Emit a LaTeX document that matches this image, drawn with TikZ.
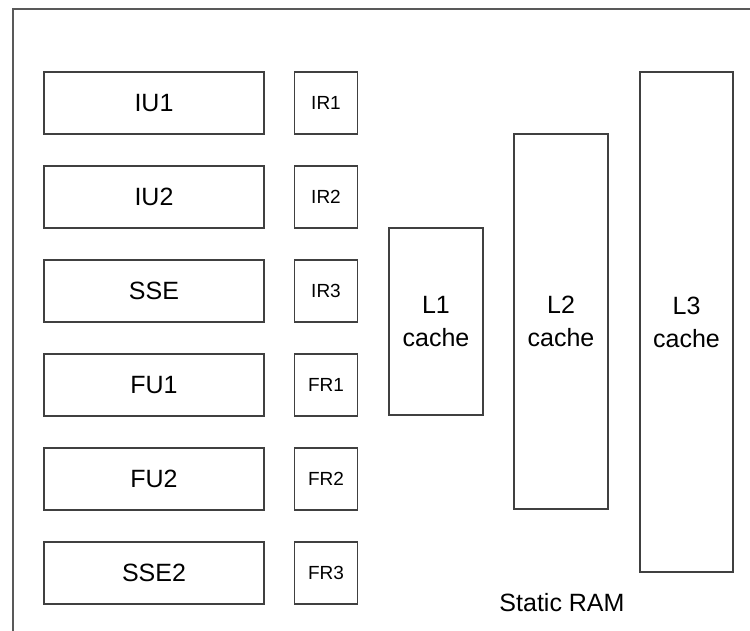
\documentclass[tikz,border=0pt]{standalone}
\usepackage{fontspec}
\setmainfont{Liberation Sans}
\begin{document}
\begin{tikzpicture}[x=1pt,y=-1pt,
    box/.style={draw=black!75,line width=1.6pt,rectangle,inner sep=0pt},
    unitbox/.style={box,minimum width=220pt,minimum height=62pt,font=\fontsize{25}{30}\selectfont},
    regbox/.style={box,minimum width=63pt,minimum height=62pt,font=\fontsize{19}{23}\selectfont},
    cachebox/.style={box,minimum width=94pt,align=center,font=\fontsize{25}{33}\selectfont}]
      \useasboundingbox (0,0) rectangle (750,631);
      \draw[black!65,line width=2pt] (13,631) -- (13,9) -- (750,9);
      \foreach \u/\r [count=\i] in {IU1/IR1,IU2/IR2,SSE/IR3,FU1/FR1,FU2/FR2,SSE2/FR3} {
          \node[unitbox] (\u) at (154,{103+94*(\i-1)}) {\u};
          \node[regbox] (\r) at (326,{103+94*(\i-1)}) {\r};
        }

      \node[cachebox,minimum height=187pt] (L1) at (436,321.5) {L1\\cache};
      \node[cachebox,minimum height=375pt] (L2) at (561,321.5) {L2\\cache};
      \node[cachebox,minimum width=93pt,minimum height=500pt] (L3) at (686.5,322) {L3\\cache};
      \node[font=\fontsize{25}{30}\selectfont] (sram) at (562,603) {Static RAM};
    \end{tikzpicture}
\end{document}
